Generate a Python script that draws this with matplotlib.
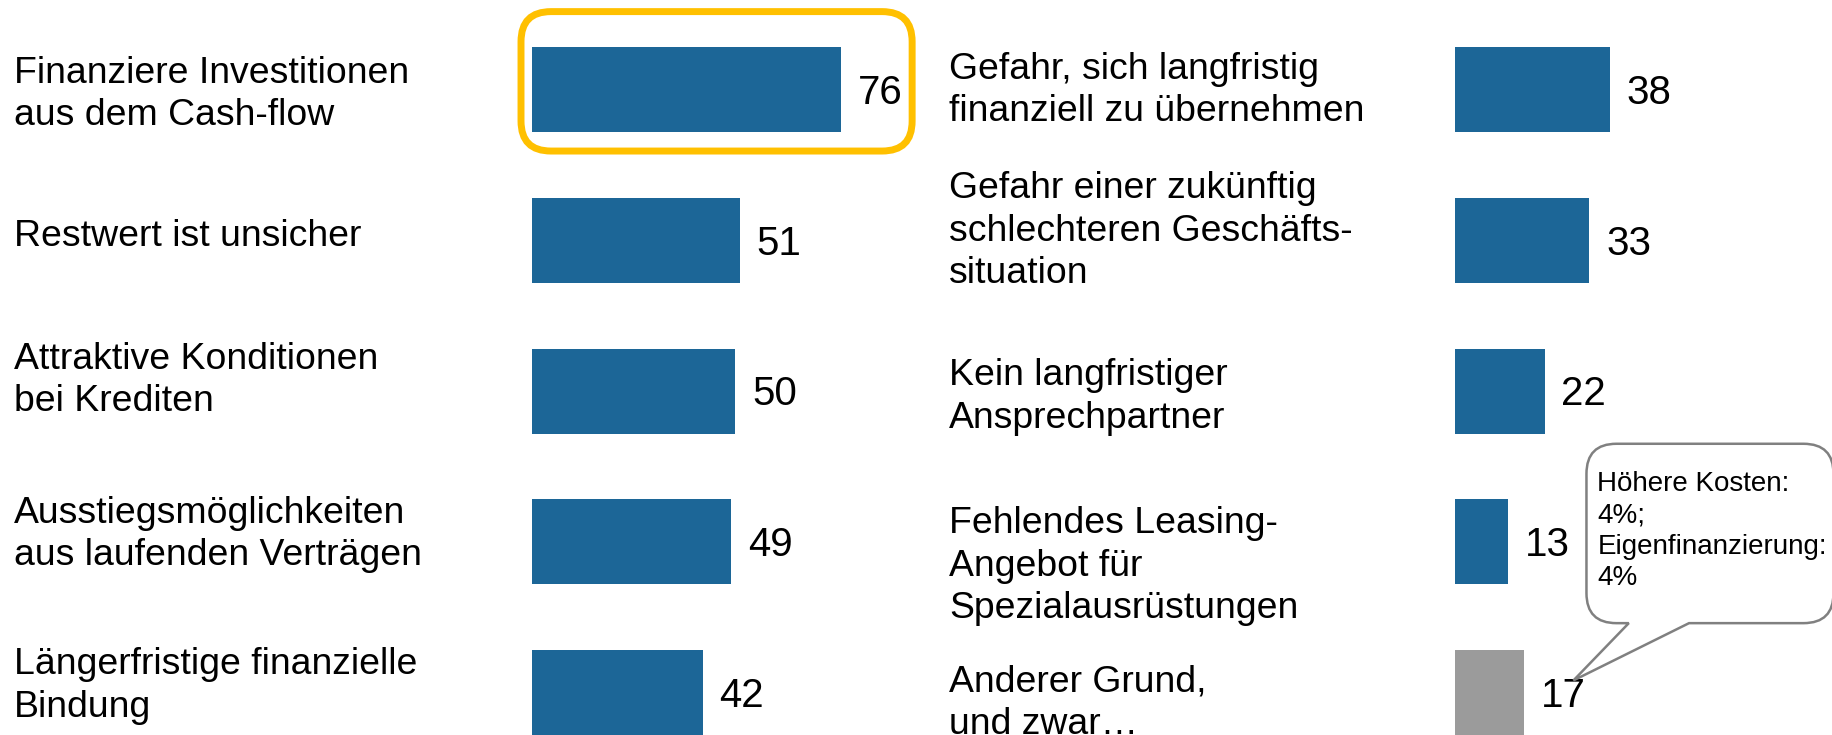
import matplotlib.pyplot as plt
from matplotlib.patches import FancyBboxPatch, PathPatch
from matplotlib.path import Path
from matplotlib.transforms import blended_transform_factory, IdentityTransform

plt.rcParams['font.family'] = ['Liberation Sans', 'DejaVu Sans']

# data
left_labels = [
    "Finanziere Investitionen\naus dem Cash-flow",
    "Restwert ist unsicher",
    "Attraktive Konditionen\nbei Krediten",
    "Ausstiegsmöglichkeiten\naus laufenden Verträgen",
    "Längerfristige finanzielle\nBindung",
]
left_values = [76, 51, 50, 49, 42]

right_labels = [
    "Gefahr, sich langfristig\nfinanziell zu übernehmen",
    "Gefahr einer zukünftig\nschlechteren Geschäfts-\nsituation",
    "Kein langfristiger\nAnsprechpartner",
    "Fehlendes Leasing-\nAngebot für\nSpezialausrüstungen",
    "Anderer Grund,\nund zwar…",
]
right_values = [38, 33, 22, 13, 17]
right_is_other = [False, False, False, False, True]

callout_text = "Höhere Kosten:\n4%;\nEigenfinanzierung:\n4%"

BLUE = '#1c6697'
GRAY = '#9b9b9b'
W, H = 1833, 735
PX_UNIT = 4.07

# small vertical nudges of the row labels (in row units), layout only
left_nudge = [0.033, -0.023, -0.07, -0.05, -0.043]
right_nudge = [0.007, -0.06, 0.04, 0.163, 0.073]

fig = plt.figure(figsize=(W / 100, H / 100), dpi=100)
ax_l = fig.add_axes([532 / W, 0, 400 / W, 1])
ax_l.set_xlim(0, 400 / PX_UNIT)
ax_r = fig.add_axes([1455 / W, 0, 378 / W, 1])
ax_r.set_xlim(0, 378 / PX_UNIT)

rows = list(range(len(left_values)))
for ax in (ax_l, ax_r):
    ax.set_ylim(4.282, -0.594)
    ax.axis('off')

ax_l.barh(rows, left_values, height=0.564, color=BLUE)
ax_r.barh(rows, right_values, height=0.564,
          color=[GRAY if o else BLUE for o in right_is_other])

for ax, vals in ((ax_l, left_values), (ax_r, right_values)):
    for i, v in zip(rows, vals):
        ax.annotate(str(v), (v, i), xytext=(12, -2.5), textcoords='offset points',
                    ha='left', va='center', fontsize=29)

tl = blended_transform_factory(fig.transFigure, ax_l.transData)
for i, lab in zip(rows, left_labels):
    ax_l.text(14 / W, i + left_nudge[i], lab, transform=tl, ha='left',
              va='center', fontsize=26.9, linespacing=1.275)
for i, lab in zip(rows, right_labels):
    ax_r.text(949 / W, i + right_nudge[i], lab, transform=tl, ha='left',
              va='center', fontsize=26.9, linespacing=1.275)

# yellow highlight around the first bar
fig.canvas.draw()
x0, y0 = ax_l.transData.transform((-2.7, 0.408))
x1, y1 = ax_l.transData.transform((93.4, -0.517))
hl = FancyBboxPatch((x0, y0), x1 - x0, y1 - y0,
                    boxstyle='round,pad=0,rounding_size=30',
                    transform=IdentityTransform(), fill=False,
                    ec='#FFC000', lw=5)
fig.add_artist(hl)

# speech bubble
L, B = ax_r.transData.transform((32.3, 3.54))
R, T = ax_r.transData.transform((93.0, 2.35))
bx1, _ = ax_r.transData.transform((42.7, 0))
bx2, _ = ax_r.transData.transform((57.5, 0))
tx, ty = ax_r.transData.transform((29.1, 3.92))
r = 30
verts = [(L + r, T), (R - r, T), (R, T), (R, T - r), (R, B + r), (R, B), (R - r, B),
         (bx2, B), (tx, ty), (bx1, B), (L + r, B), (L, B), (L, B + r), (L, T - r),
         (L, T), (L + r, T), (L + r, T)]
codes = [Path.MOVETO, Path.LINETO, Path.CURVE3, Path.CURVE3, Path.LINETO,
         Path.CURVE3, Path.CURVE3, Path.LINETO, Path.LINETO, Path.LINETO,
         Path.LINETO, Path.CURVE3, Path.CURVE3, Path.LINETO, Path.CURVE3,
         Path.CURVE3, Path.CLOSEPOLY]
bubble = PathPatch(Path(verts, codes), transform=IdentityTransform(),
                   fc='white', ec='#808080', lw=1.8, zorder=5)
fig.add_artist(bubble)
fig.text(35.0, 2.53, callout_text, transform=ax_r.transData, ha='left',
         va='top', fontsize=20, linespacing=1.275, zorder=6)

fig.savefig('out.png', dpi=100)
